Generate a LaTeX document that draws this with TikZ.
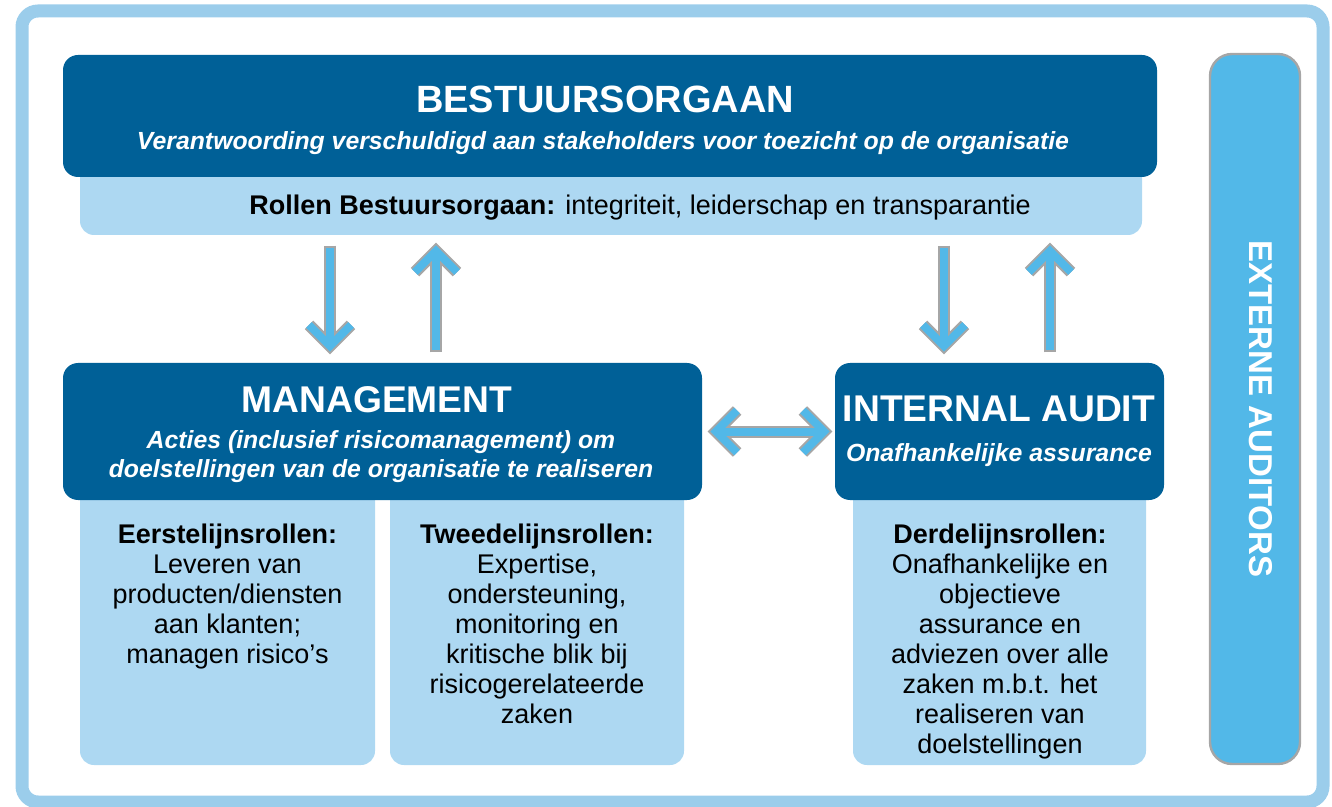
\documentclass[tikz,border=0pt]{standalone}
\usepackage{fontspec}
\setmainfont{Liberation Sans}
\usetikzlibrary{arrows.meta,fit}

\definecolor{framecol}{RGB}{155,205,235}
\definecolor{darkblue}{RGB}{0,96,151}
\definecolor{lightblue}{RGB}{173,216,242}
\definecolor{arrowblue}{RGB}{82,184,232}
\definecolor{arrowgray}{RGB}{166,166,166}

\tikzset{
  darkbox/.style={fill=darkblue, rounded corners=7.5pt, inner sep=0pt},
  lightbox/.style={fill=lightblue, rounded corners=7pt, inner sep=0pt},
  heading/.style={text=white, anchor=base, font=\fontsize{18.6}{22}\selectfont\bfseries},
  subhead/.style={text=white, anchor=base, align=center, font=\fontsize{12.4}{14.5}\selectfont\bfseries\itshape},
  body/.style={anchor=north, align=center, inner sep=0pt, font=\fontsize{13.5}{15}\selectfont},
  barb/.tip={Straight Barb[length=10.5pt 0 0,width=21pt 0 0]},
  flow/.style={draw=arrowblue, line width=4pt,
    preaction={draw=arrowgray, line width=6pt, shorten >=-1.4pt, shorten <=-1.4pt}},
}

\begin{document}
\begin{tikzpicture}[x=0.5pt, y=-0.5pt]
  \useasboundingbox (0,0) rectangle (1332,807);
  % outer frame
  \draw[framecol, line width=6.5pt, rounded corners=8pt] (22,11) rectangle (1323,802);

  % light parts first, the dark boxes cover their tops
  \node[lightbox, fit={(80,150) (1142,235)}] (band) {};
  \node[lightbox, fit={(80,480) (375,765)}] (first) {};
  \node[lightbox, fit={(390,480) (684,765)}] (second) {};
  \node[lightbox, fit={(853,480) (1146,765)}] (third) {};

  \node[darkbox, fit={(63,55) (1157,177)}] (board) {};
  \node[darkbox, fit={(63,363) (702,500)}] (mgmt) {};
  \node[darkbox, fit={(835,363) (1164,500)}] (audit) {};
  \node[draw=arrowgray, line width=1.2pt, fill=arrowblue, rounded corners=11pt,
        inner sep=0pt, fit={(1210,54) (1300,764)}] (ext) {};

  % texts
  \node[heading, font=\fontsize{19}{23}\selectfont\bfseries] (boardtitle) at (605,113) {BESTUURSORGAAN};
  \node[subhead] (boardsub) at (603,150) {Verantwoording verschuldigd aan stakeholders voor toezicht op de organisatie};
  \node[anchor=base, font=\fontsize{13.5}{15}\selectfont] (bandtext) at (640,215)
       {\textbf{Rollen Bestuursorgaan:} integriteit, leiderschap en transparantie};

  \node[heading] (mgmttitle) at (377,412) {MANAGEMENT};
  \node[subhead, anchor=center] (mgmtsub) at (381,457)
       {Acties (inclusief risicomanagement) om\\doelstellingen van de organisatie te realiseren};
  \node[heading] (audittitle) at (999,421) {INTERNAL AUDIT};
  \node[subhead] (auditsub) at (999,461) {Onafhankelijke assurance};

  \node[body] (firsttext) at (227.5,523.5)
       {\textbf{Eerstelijnsrollen:}\\Leveren van\\producten/diensten\\aan klanten;\\managen risico's};
  \node[body] (secondtext) at (537,523.5)
       {\textbf{Tweedelijnsrollen:}\\Expertise,\\ondersteuning,\\monitoring en\\kritische blik bij\\risicogerelateerde\\zaken};
  \node[body] (thirdtext) at (1000,523.5)
       {\textbf{Derdelijnsrollen:}\\Onafhankelijke en\\objectieve\\assurance en\\adviezen over alle\\zaken m.b.t. het\\realiseren van\\doelstellingen};

  \node[rotate=-90, text=white, font=\fontsize{16.5}{20}\selectfont\bfseries] (exttext) at (1261,409) {EXTERNE AUDITORS};

  % arrows
  \draw[flow, -barb] ([yshift=-6.5pt]band.south -| 330,0) -- ([yshift=5.5pt]mgmt.north -| 330,0);
  \draw[flow, -barb] ([yshift=6.5pt]mgmt.north -| 436,0) -- ([yshift=-5pt]band.south -| 436,0);
  \draw[flow, -barb] ([yshift=-6.5pt]band.south -| 944,0) -- ([yshift=5.5pt]audit.north -| 944,0);
  \draw[flow, -barb] ([yshift=6.5pt]audit.north -| 1050,0) -- ([yshift=-5pt]band.south -| 1050,0);
  \draw[flow, barb-barb] ([xshift=4pt]mgmt.east) -- ([xshift=-2.5pt]audit.west);
\end{tikzpicture}
\end{document}
